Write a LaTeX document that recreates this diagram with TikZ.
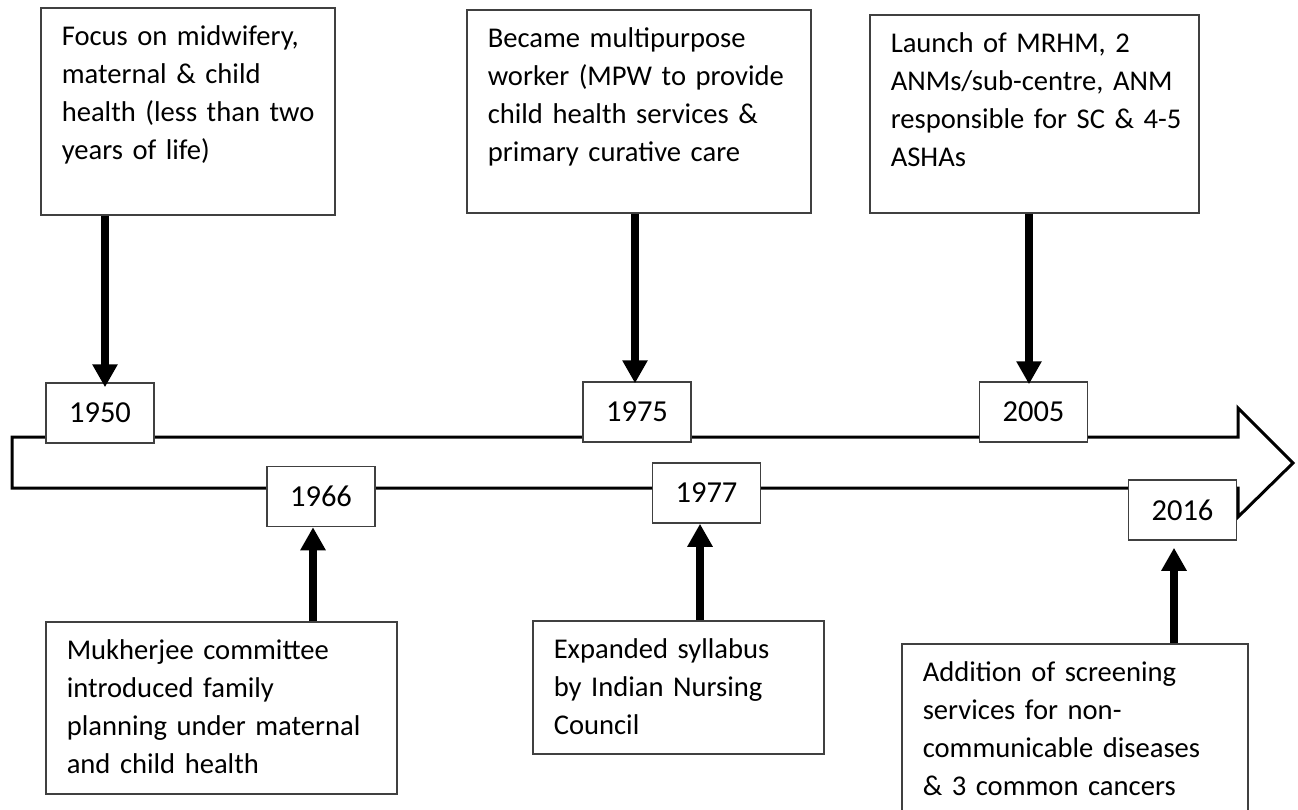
\documentclass[tikz,border=0pt]{standalone}
\usepackage{fontspec}
\setmainfont{Carlito}
\usetikzlibrary{arrows.meta}

\newcommand\eventfont{\fontsize{28.6}{38}\selectfont\hyphenpenalty=10000\exhyphenpenalty=10000\relax}

\tikzset{
  textbox/.style={draw=black!75, line width=1.5pt, fill=white, anchor=north west,
    align=left, inner xsep=21pt, inner ysep=0pt, text height=38pt,
    font=\eventfont},
  yearbox/.style={draw=black!75, line width=1.5pt, fill=white, minimum width=108pt,
    minimum height=60pt, inner sep=0pt, font=\fontsize{30.5}{34}\selectfont},
  pointer/.style={line width=8pt, -{Triangle[width=24pt,length=23pt]}},
}

\begin{document}
\begin{tikzpicture}[x=1pt, y=-1pt]
\useasboundingbox (0,0) rectangle (1298,809);

% the timeline
\draw[line width=3pt, line join=miter] (12,437) -- (1238,437) -- (1238,408) -- (1293,463)
  -- (1238,517) -- (1238,488) -- (12,488) -- cycle;

% years on the line
\node[yearbox] (y1950) at (100,413) {1950};
\node[yearbox] (y1975) at (637,412) {1975};
\node[yearbox] (y2005) at (1033.5,412) {2005};
\node[yearbox] (y1966) at (321,496.5) {1966};
\node[yearbox] (y1977) at (706.5,493) {1977};
\node[yearbox] (y2016) at (1182.5,510) {2016};

% events above
\node[textbox, text width=252pt, text depth=169pt] (focus) at (40,7)
  {Focus~on~midwifery,\\maternal \& child\\health~(less~than~two\\years of life)};
\node[textbox, text width=302pt, text depth=165pt] (mpw) at (466,9)
  {Became multipurpose\\worker~(MPW~to~provide\\child~health~services~\&\\primary curative care};
\node[textbox, text width=287pt, text depth=160pt] (mrhm) at (869,14)
  {Launch~of~MRHM,~2\\ANMs/sub-centre,~ANM\\responsible~for~SC~\&~\mbox{4-5}\\ASHAs};

% events below
\node[textbox, text width=309pt, text depth=134pt] (mukherjee) at (45,621)
  {Mukherjee committee\\introduced family\\planning~under~maternal\\and child health};
\node[textbox, text width=249pt, text depth=95pt] (inc) at (532,620)
  {Expanded syllabus\\by~Indian~Nursing\\Council};
\node[textbox, text width=304pt, text depth=150pt] (ncd) at (901,643)
  {Addition of screening\\services for non-\\communicable~diseases\\\& 3 common cancers};

% arrows
\draw[pointer] (focus.south -| 105,0) -- ([yshift=-5pt]y1950.north -| 105,0);
\draw[pointer] (mpw.south -| 635,0) -- ([yshift=-2pt]y1975.north -| 635,0);
\draw[pointer] (mrhm.south -| 1029,0) -- ([yshift=-3pt]y2005.north -| 1029,0);
\draw[pointer] (mukherjee.north -| 313,0) -- (y1966.south -| 313,0);
\draw[pointer] (inc.north -| 700,0) -- (y1977.south -| 700,0);
\draw[pointer] (ncd.north -| 1174,0) -- ([yshift=-7pt]y2016.south -| 1174,0);
\end{tikzpicture}
\end{document}
